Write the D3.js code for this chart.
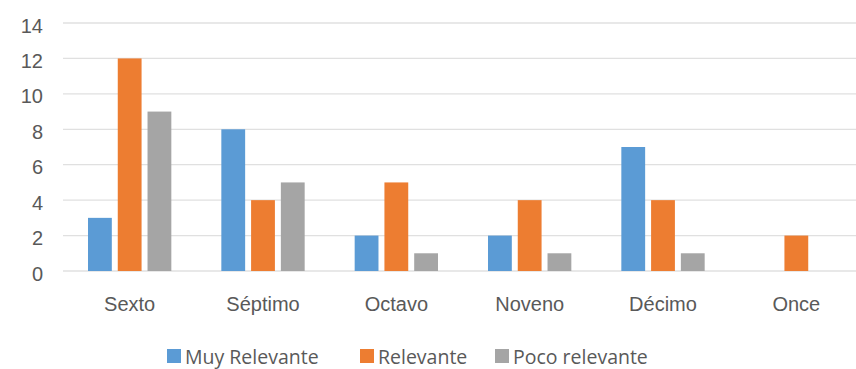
<!DOCTYPE html>
<html>
<head>
<meta charset="utf-8">
<script src="https://cdn.jsdelivr.net/npm/d3@7"></script>
<style>
  body { margin: 0; background: #fff; }
  svg { display: block; font-family: "Open Sans", "Noto Sans", sans-serif; }
</style>
</head>
<body>
<div id="chart"></div>
<script>
const categories = ["Sexto", "Séptimo", "Octavo", "Noveno", "Décimo", "Once"];
const seriesNames = ["Muy Relevante", "Relevante", "Poco relevante"];
const muyRelevante = [3, 8, 2, 2, 7, 0];
const relevante = [12, 4, 5, 4, 4, 2];
const pocoRelevante = [9, 5, 1, 1, 1, 0];
const yTickValues = [0, 2, 4, 6, 8, 10, 12, 14];
const colors = ["#5B9BD5", "#ED7D31", "#A5A5A5"];

const width = 856, height = 369;
const plotLeft = 63, plotRight = 863, plotTop = 23, plotBottom = 271;

const rows = categories.map((c, i) => ({
    cat: c,
    values: [muyRelevante[i], relevante[i], pocoRelevante[i]]
}));

const svg = d3.select('#chart').append('svg')
    .attr('width', width)
    .attr('height', height);

const x0 = d3.scaleBand()
    .domain(categories)
    .range([plotLeft, plotRight])
    .paddingInner(0.375)
    .paddingOuter(0.1875);

const x1 = d3.scaleBand()
    .domain(seriesNames)
    .range([0, x0.bandwidth()])
    .paddingInner(0.2);

const y = d3.scaleLinear()
    .domain([0, 14])
    .range([plotBottom, plotTop]);

// grid
svg.append('g')
    .selectAll('line')
    .data(yTickValues)
    .enter().append('line')
        .attr('x1', plotLeft)
        .attr('x2', plotRight)
        .attr('y1', d => y(d))
        .attr('y2', d => y(d))
        .attr('stroke', '#e0e0e0')
        .attr('stroke-width', 1.3);

// y labels
const yAxis = d3.axisLeft(y).tickValues(yTickValues).tickSize(0).tickPadding(0);
svg.append('g')
    .attr('transform', `translate(43,0)`)
    .call(yAxis)
    .call(g => g.select('.domain').remove())
    .selectAll('text')
        .attr('fill', '#595959')
        .attr('dy', '0.45em')
        .style('font-size', '20px');

// bars
const groups = svg.append('g')
    .selectAll('g')
    .data(rows)
    .enter().append('g')
        .attr('transform', d => `translate(${x0(d.cat)},0)`);

groups.selectAll('rect')
    .data(d => d.values.map((v, i) => ({ name: seriesNames[i], v: v, i: i })))
    .enter().append('rect')
        .attr('x', d => x1(d.name))
        .attr('y', d => y(d.v))
        .attr('width', x1.bandwidth())
        .attr('height', d => y(0) - y(d.v))
        .attr('fill', d => colors[d.i]);

// x labels
const xAxis = d3.axisBottom(x0).tickSize(0).tickPadding(0);
svg.append('g')
    .attr('transform', `translate(0,${plotBottom + 40})`)
    .call(xAxis)
    .call(g => g.select('.domain').remove())
    .selectAll('text')
        .attr('fill', '#595959')
        .attr('dy', 0)
        .style('font-size', '20px');

// legend
const legendX = [167, 360, 495];
const legend = svg.append('g')
    .selectAll('g')
    .data(seriesNames)
    .enter().append('g')
        .attr('transform', (d, i) => `translate(${legendX[i]},349)`);

legend.append('rect')
    .attr('width', 14)
    .attr('height', 14)
    .attr('fill', (d, i) => colors[i]);

legend.append('text')
    .attr('x', 18)
    .attr('y', 15)
    .attr('fill', '#595959')
    .style('font-size', '19.5px')
    .text(d => d);
</script>
</body>
</html>
